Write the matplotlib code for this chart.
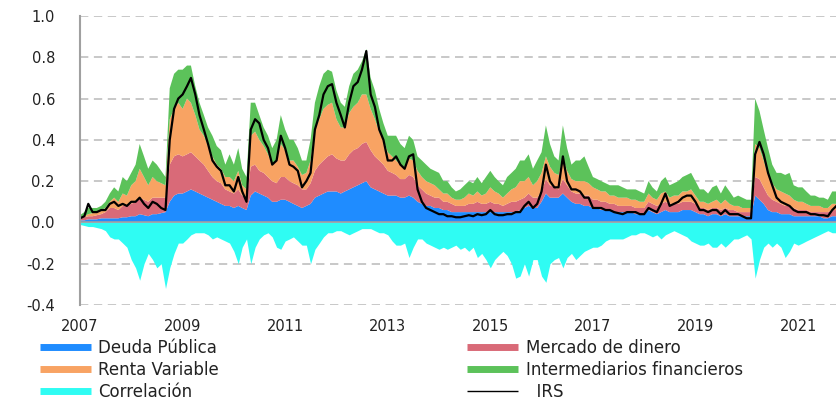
import matplotlib
matplotlib.use("Agg")
import matplotlib.pyplot as plt
from matplotlib.lines import Line2D
import pandas as pd

plt.rcParams['font.family'] = ['DejaVu Sans']
plt.rcParams['lines.scale_dashes'] = False

# Monthly observations, Jan 2007 .. Oct 2021
dates = pd.date_range("2007-01-01", periods=178, freq="MS")

deuda_publica = [
    .01,.01,.015,.015,.015,.02,.02,.02,.02,.02,.025,.025,
    .03,.03,.04,.035,.03,.04,.04,.045,.05,.10,.13,.14,
    .14,.15,.16,.15,.14,.13,.12,.11,.10,.09,.08,.08,
    .07,.08,.07,.06,.13,.15,.14,.13,.12,.10,.10,.11,
    .11,.10,.09,.08,.07,.08,.09,.12,.13,.14,.15,.15,
    .15,.14,.15,.16,.17,.18,.19,.20,.17,.16,.15,.14,
    .13,.13,.13,.12,.12,.13,.12,.10,.09,.08,.08,.07,
    .07,.06,.06,.05,.05,.05,.05,.05,.05,.05,.05,.05,
    .05,.05,.05,.05,.05,.05,.05,.06,.07,.08,.07,.07,
    .10,.14,.12,.12,.12,.14,.12,.10,.09,.09,.08,.08,
    .07,.07,.06,.06,.06,.05,.05,.05,.05,.05,.04,.04,
    .04,.06,.05,.04,.05,.06,.05,.05,.05,.06,.06,.06,
    .05,.04,.04,.03,.04,.04,.03,.04,.03,.03,.03,.03,
    .03,.03,.13,.11,.09,.06,.05,.05,.04,.04,.04,.03,
    .03,.03,.03,.03,.03,.03,.02,.02,.03,.03,
]
mercado_dinero = [
    .01,.015,.015,.015,.02,.02,.03,.05,.05,.04,.055,.055,
    .06,.07,.08,.075,.07,.08,.08,.075,.07,.18,.19,.19,
    .18,.18,.18,.17,.16,.15,.13,.11,.10,.10,.08,.07,
    .07,.08,.06,.06,.14,.13,.11,.11,.10,.10,.09,.11,
    .11,.10,.10,.10,.09,.08,.10,.13,.15,.16,.17,.18,
    .16,.16,.15,.17,.18,.18,.19,.19,.18,.16,.15,.14,
    .12,.11,.10,.09,.09,.10,.10,.08,.07,.06,.05,.05,
    .05,.04,.04,.04,.03,.03,.03,.04,.04,.05,.04,.04,
    .05,.04,.04,.03,.04,.05,.05,.05,.05,.06,.05,.05,
    .05,.07,.06,.05,.04,.07,.06,.05,.05,.05,.05,.05,
    .04,.04,.04,.04,.03,.04,.03,.03,.03,.03,.03,.03,
    .03,.04,.04,.04,.04,.04,.04,.04,.04,.04,.04,.04,
    .04,.03,.03,.03,.03,.03,.03,.03,.03,.03,.02,.02,
    .02,.02,.09,.10,.08,.07,.06,.05,.05,.04,.04,.04,
    .03,.03,.03,.02,.02,.02,.03,.03,.03,.03,
]
renta_variable = [
    .005,.005,.01,.015,.015,.02,.02,.03,.05,.04,.06,.05,
    .09,.10,.14,.11,.08,.10,.08,.07,.06,.22,.23,.25,
    .23,.27,.24,.20,.15,.14,.12,.10,.08,.07,.06,.07,
    .06,.09,.05,.04,.15,.16,.15,.13,.11,.08,.11,.16,
    .13,.10,.11,.09,.07,.08,.11,.20,.22,.25,.25,.25,
    .19,.16,.16,.20,.21,.22,.24,.23,.20,.18,.14,.12,
    .09,.08,.07,.07,.06,.08,.08,.07,.06,.06,.06,.06,
    .04,.04,.04,.03,.03,.03,.04,.05,.04,.05,.04,.05,
    .07,.06,.05,.04,.05,.06,.07,.09,.08,.08,.06,.08,
    .09,.11,.09,.07,.07,.10,.07,.06,.06,.06,.07,.06,
    .06,.05,.05,.05,.04,.04,.04,.04,.04,.03,.04,.03,
    .03,.04,.03,.03,.05,.05,.03,.04,.04,.05,.05,.06,
    .04,.03,.03,.03,.03,.04,.03,.04,.03,.02,.03,.02,
    .02,.02,.16,.15,.13,.10,.08,.06,.06,.06,.05,.04,
    .04,.04,.03,.03,.03,.03,.02,.02,.03,.03,
]
intermediarios = [
    .01,.02,.03,.025,.02,.02,.03,.04,.05,.05,.08,.07,
    .06,.08,.12,.10,.08,.08,.08,.06,.04,.15,.17,.16,
    .19,.16,.18,.14,.13,.10,.09,.10,.09,.09,.06,.11,
    .08,.11,.08,.06,.16,.14,.12,.09,.09,.08,.10,.14,
    .10,.10,.10,.09,.07,.06,.10,.13,.16,.17,.17,.15,
    .14,.12,.10,.13,.16,.16,.16,.22,.15,.14,.11,.08,
    .08,.10,.12,.10,.09,.11,.10,.07,.08,.08,.07,.07,
    .08,.06,.06,.05,.04,.05,.06,.06,.06,.07,.06,.08,
    .08,.07,.06,.06,.08,.08,.09,.10,.10,.11,.08,.10,
    .10,.15,.11,.08,.07,.16,.11,.07,.10,.10,.12,.08,
    .05,.05,.05,.04,.05,.05,.06,.05,.04,.05,.05,.05,
    .04,.06,.05,.04,.06,.07,.06,.06,.07,.07,.08,.08,
    .07,.06,.06,.05,.07,.07,.05,.07,.06,.04,.05,.05,
    .04,.04,.22,.18,.15,.13,.09,.08,.09,.09,.11,.07,
    .07,.07,.06,.05,.05,.04,.05,.04,.06,.06,
]
correlacion = [
    -.01,-.015,-.02,-.02,-.025,-.03,-.04,-.07,-.08,-.08,-.10,-.12,
    -.18,-.22,-.28,-.20,-.15,-.18,-.22,-.20,-.32,-.22,-.15,-.10,
    -.10,-.08,-.06,-.05,-.05,-.05,-.06,-.08,-.07,-.08,-.09,-.10,
    -.14,-.20,-.12,-.08,-.20,-.12,-.08,-.06,-.05,-.07,-.12,-.13,
    -.09,-.08,-.07,-.09,-.11,-.11,-.20,-.13,-.10,-.07,-.05,-.05,
    -.04,-.04,-.05,-.06,-.05,-.04,-.03,-.03,-.03,-.04,-.05,-.05,
    -.06,-.09,-.11,-.11,-.10,-.17,-.12,-.08,-.08,-.10,-.11,-.12,
    -.13,-.12,-.13,-.12,-.11,-.13,-.12,-.14,-.12,-.17,-.15,-.18,
    -.22,-.18,-.16,-.14,-.16,-.20,-.27,-.26,-.20,-.26,-.18,-.18,
    -.26,-.29,-.20,-.18,-.17,-.22,-.17,-.15,-.18,-.16,-.14,-.13,
    -.12,-.12,-.11,-.09,-.08,-.08,-.08,-.08,-.07,-.06,-.06,-.05,
    -.05,-.06,-.07,-.06,-.08,-.06,-.05,-.04,-.05,-.06,-.07,-.09,
    -.10,-.11,-.11,-.10,-.12,-.12,-.10,-.12,-.10,-.08,-.08,-.07,
    -.06,-.08,-.27,-.18,-.12,-.10,-.12,-.10,-.12,-.17,-.14,-.10,
    -.11,-.10,-.09,-.08,-.07,-.06,-.05,-.04,-.05,-.05,
]
irs = [
    .02,.03,.09,.05,.05,.06,.06,.09,.10,.08,.09,.08,
    .10,.10,.12,.09,.07,.10,.09,.07,.06,.40,.55,.60,
    .62,.66,.70,.62,.52,.45,.38,.30,.27,.25,.18,.18,
    .15,.22,.15,.10,.45,.50,.48,.40,.36,.28,.30,.42,
    .36,.28,.27,.25,.17,.20,.24,.45,.52,.62,.66,.67,
    .58,.52,.46,.58,.66,.68,.74,.83,.62,.56,.45,.40,
    .30,.30,.32,.28,.26,.32,.33,.16,.10,.07,.06,.05,
    .04,.04,.03,.03,.025,.025,.03,.035,.03,.04,.035,.04,
    .06,.04,.035,.035,.04,.04,.05,.05,.08,.10,.07,.09,
    .15,.28,.20,.17,.17,.32,.20,.16,.16,.15,.12,.12,
    .07,.07,.07,.06,.06,.05,.045,.04,.05,.05,.05,.04,
    .04,.07,.06,.05,.09,.14,.08,.09,.10,.12,.13,.13,
    .10,.06,.06,.05,.06,.06,.04,.06,.04,.04,.04,.03,
    .02,.02,.33,.39,.33,.24,.18,.12,.10,.09,.08,.06,
    .05,.05,.05,.04,.04,.035,.035,.03,.06,.08,
]

labels = ["Deuda Pública", "Mercado de dinero", "Renta Variable",
          "Intermediarios financieros", "Correlación", "IRS"]
colors = ["#1f8cff", "#d96a78", "#f8a363", "#5cc25a", "#2ffcf3", "#000000"]

y_ticks = [-0.4, -0.2, 0.0, 0.2, 0.4, 0.6, 0.8, 1.0]
x_tick_years = [2007, 2009, 2011, 2013, 2015, 2017, 2019, 2021]

fig = plt.figure(figsize=(8.36, 4.01), dpi=100)
ax = fig.add_axes([80/836, 1-305/401, (836-80)/836, (305-16)/401])

for yv in y_ticks:
    if yv != 0.0:
        ax.axhline(yv, color="#c4c4c4", lw=1.3, dashes=(6, 4), zorder=0)

ax.stackplot(dates, deuda_publica, mercado_dinero, renta_variable, intermediarios,
             colors=colors[:4], linewidth=0, zorder=2)
ax.fill_between(dates, correlacion, 0, color=colors[4], linewidth=0, zorder=2)
ax.axhline(0, color="#a0a0a0", lw=1.2, zorder=3)
ax.plot(dates, irs, color="black", lw=1.6, zorder=4)

ax.set_ylim(-0.4, 1.0)
ax.set_xlim(pd.Timestamp("2007-01-01"), pd.Timestamp("2021-09-28"))
ax.set_yticks(y_ticks)
ax.set_yticklabels([f"{v:.1f}" for v in y_ticks])
ax.set_xticks([pd.Timestamp(f"{y}-01-01") for y in x_tick_years])
ax.set_xticklabels([str(y) for y in x_tick_years])
ax.tick_params(axis="y", length=0, pad=18, labelsize=10.5, labelcolor="#222222")
ax.tick_params(axis="x", length=0, pad=10, labelsize=10.5, labelcolor="#222222")
for s in ["top", "right", "bottom"]:
    ax.spines[s].set_visible(False)
ax.spines["left"].set_color("#a0a0a0")
ax.spines["left"].set_linewidth(1.5)
ax.spines["left"].set_zorder(5)

def h(c, lw=5):
    return Line2D([0], [0], color=c, lw=lw, solid_capstyle="butt")

fs = 12
leg_kw = dict(loc="center left", frameon=False, fontsize=fs, borderpad=0,
              borderaxespad=0, handlelength=51/(fs*100/72), handletextpad=0.45,
              labelspacing=0.25, labelcolor="#222222")
leg1 = fig.legend([h(colors[0]), h(colors[2]), h(colors[4])],
                  [labels[0], labels[2], labels[4]],
                  bbox_to_anchor=(40/836, 1-370/401), **leg_kw)
leg2 = fig.legend([h(colors[1]), h(colors[3]), h(colors[5], 1)],
                  [labels[1], labels[3], "  " + labels[5]],
                  bbox_to_anchor=(467/836, 1-370/401), **leg_kw)

fig.savefig("out.png", dpi=100)
